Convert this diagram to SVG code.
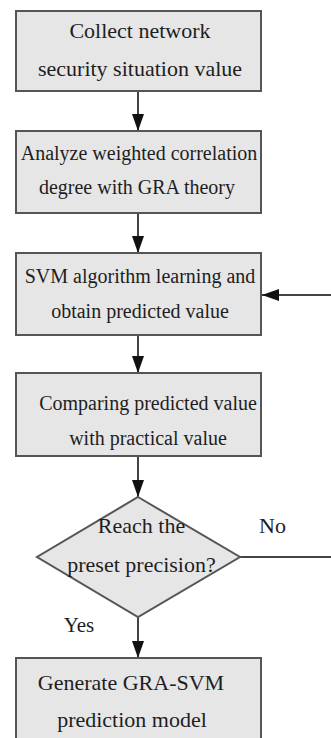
<svg xmlns="http://www.w3.org/2000/svg" width="331" height="738" viewBox="0 0 331 738">
<style>
.box{fill:#e6e6e6;stroke:#555;stroke-width:2}
.t{fill:#1e1e1e;text-anchor:middle}
.l{fill:none;stroke:#444;stroke-width:2}
</style>
<defs>
<marker id="ah" viewBox="0 0 17 12" refX="17" refY="6" markerWidth="17" markerHeight="12" markerUnits="userSpaceOnUse" orient="auto">
<path d="M0,0 L17,6 L0,12 Z" fill="#111"/>
</marker>
</defs>
<rect width="331" height="738" fill="#fff"/>
<g font-family="Liberation Serif, Times New Roman, DejaVu Serif, serif">
<g id="connectors">
<line class="l" x1="138" y1="91" x2="138" y2="131" marker-end="url(#ah)"/>
<line class="l" x1="138" y1="213" x2="138" y2="253" marker-end="url(#ah)"/>
<line class="l" x1="138" y1="335" x2="138" y2="373" marker-end="url(#ah)"/>
<line class="l" x1="138" y1="456" x2="138" y2="497" marker-end="url(#ah)"/>
<line class="l" x1="138" y1="617" x2="138" y2="658" marker-end="url(#ah)"/>
<line class="l" x1="240" y1="557" x2="331" y2="557"/>
<line class="l" x1="331" y1="295" x2="262" y2="295" marker-end="url(#ah)"/>
<text class="t" x="272.5" y="533" font-size="22">No</text>
<text class="t" x="79" y="632" font-size="21">Yes</text>
</g>
<g id="n1">
<rect class="box" x="16" y="11" width="245" height="80"/>
<text class="t" x="140" y="38" font-size="22">Collect network</text>
<text class="t" x="140" y="76" font-size="22">security situation value</text>
</g>
<g id="n2">
<rect class="box" x="16" y="131" width="245" height="82"/>
<text class="t" x="139" y="160" font-size="20">Analyze weighted correlation</text>
<text class="t" x="137" y="194" font-size="20">degree with GRA theory</text>
</g>
<g id="n3">
<rect class="box" x="16" y="253" width="245" height="82"/>
<text class="t" x="140" y="283" font-size="20">SVM algorithm learning and</text>
<text class="t" x="140" y="318" font-size="20">obtain predicted value</text>
</g>
<g id="n4">
<rect class="box" x="16" y="373" width="245" height="83"/>
<text class="t" x="148" y="410" font-size="20">Comparing predicted value</text>
<text class="t" x="148" y="445" font-size="20">with practical value</text>
</g>
<g id="n5">
<polygon class="box" points="138,497 240,557 138,617 37,557"/>
<text class="t" x="141.5" y="533" font-size="22">Reach the</text>
<text class="t" x="141.5" y="572" font-size="22">preset precision?</text>
</g>
<g id="n6">
<rect class="box" x="16" y="658" width="245" height="90"/>
<text class="t" x="131" y="690" font-size="22">Generate GRA-SVM</text>
<text class="t" x="132" y="727" font-size="22">prediction model</text>
</g>
</g>
</svg>
